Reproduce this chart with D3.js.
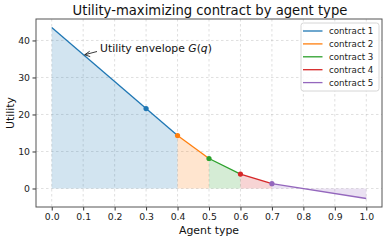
<!DOCTYPE html>
<html lang="en">
<head>
  <meta charset="UTF-8">
  <title>Utility-maximizing contract by agent type</title>
  <style>
    body { margin: 0; background: #fff; font-family: "DejaVu Sans", sans-serif; }
    .grid line { stroke: #b0b0b0; stroke-opacity: 0.5; stroke-dasharray: 2.5, 2.5; stroke-width: 0.8; }
    .axis text { font-size: 9.3px; fill: #222; }
    .axis line { stroke: #333; }
  </style>
  <script src="https://d3js.org/d3.v7.min.js"></script>
</head>
<body>
  <svg width="387" height="240"></svg>
  <script>
    // contract boundaries along agent type and envelope utility there
    const contracts = ["contract 1", "contract 2", "contract 3", "contract 4", "contract 5"];
    const colors = ["#1f77b4", "#ff7f0e", "#2ca02c", "#d62728", "#9467bd"];
    const breakQ = [0.0, 0.4, 0.5, 0.6, 0.7, 1.0];
    const breakU = [43.5, 14.3, 8.1, 3.9, 1.3, -2.7];
    // dot for each contract
    const markQ = [0.3, 0.4, 0.5, 0.6, 0.7];
    const markU = [21.6, 14.3, 8.1, 3.9, 1.3];
    const xTicks = [0, 0.1, 0.2, 0.3, 0.4, 0.5, 0.6, 0.7, 0.8, 0.9, 1.0];
    const yTicks = [0, 10, 20, 30, 40];

    const svg = d3.select('svg');
    const mLeft = 36, mRight = 382, mTop = 19, mBottom = 207;

    const x = d3.scaleLinear().domain([-0.05, 1.05]).range([mLeft, mRight]);
    const y = d3.scaleLinear().domain([-5.0, 45.8]).range([mBottom, mTop]);

    // grid
    const grid = svg.append('g').attr('class', 'grid');
    grid.selectAll('.gx').data(xTicks).enter().append('line')
      .attr('x1', d => x(d)).attr('x2', d => x(d)).attr('y1', mTop).attr('y2', mBottom);
    grid.selectAll('.gy').data(yTicks).enter().append('line')
      .attr('y1', d => y(d)).attr('y2', d => y(d)).attr('x1', mLeft).attr('x2', mRight);

    const segs = contracts.map((c, i) => ({
      name: c, color: colors[i],
      pts: [[breakQ[i], breakU[i]], [breakQ[i + 1], breakU[i + 1]]]
    }));

    const area = d3.area().x(d => x(d[0])).y0(y(0)).y1(d => y(d[1]));
    const line = d3.line().x(d => x(d[0])).y(d => y(d[1]));

    svg.append('g').selectAll('path').data(segs).enter().append('path')
      .attr('d', d => area(d.pts))
      .attr('fill', d => d.color).attr('fill-opacity', 0.2);

    svg.append('g').selectAll('path').data(segs).enter().append('path')
      .attr('d', d => line(d.pts))
      .attr('fill', 'none').attr('stroke', d => d.color).attr('stroke-width', 1.3);

    svg.append('g').selectAll('circle').data(markQ).enter().append('circle')
      .attr('cx', d => x(d)).attr('cy', (d, i) => y(markU[i])).attr('r', 2.6)
      .attr('fill', (d, i) => colors[i]);

    // axes
    const xAxis = svg.append('g').attr('class', 'axis')
      .attr('transform', `translate(0,${mBottom})`)
      .call(d3.axisBottom(x).tickValues(xTicks).tickFormat(d3.format('.1f')).tickSize(3.5).tickPadding(3));
    const yAxis = svg.append('g').attr('class', 'axis')
      .attr('transform', `translate(${mLeft},0)`)
      .call(d3.axisLeft(y).tickValues(yTicks).tickSize(3.5).tickPadding(2.5));
    xAxis.select('.domain').remove();
    yAxis.select('.domain').remove();
    xAxis.attr('font-family', null);
    yAxis.attr('font-family', null);

    svg.append('rect')
      .attr('x', mLeft).attr('y', mTop).attr('width', mRight - mLeft).attr('height', mBottom - mTop)
      .attr('fill', 'none').attr('stroke', '#555').attr('stroke-width', 1);

    // labels
    svg.append('text').attr('x', (mLeft + mRight) / 2 + 1).attr('y', 15)
      .attr('text-anchor', 'middle').attr('font-size', '13.2px').attr('fill', '#111')
      .text('Utility-maximizing contract by agent type');
    svg.append('text').attr('x', (mLeft + mRight) / 2).attr('y', 234)
      .attr('text-anchor', 'middle').attr('font-size', '10.9px').attr('fill', '#111')
      .text('Agent type');
    svg.append('text').attr('transform', `translate(14,${(mTop + mBottom) / 2}) rotate(-90)`)
      .attr('text-anchor', 'middle').attr('font-size', '10.9px').attr('fill', '#111')
      .text('Utility');

    // annotation
    const ann = svg.append('text').attr('x', 100).attr('y', 52)
      .attr('font-size', '10.8px').attr('fill', '#111');
    ann.append('tspan').text('Utility envelope ');
    ann.append('tspan').attr('font-style', 'italic').text('G');
    ann.append('tspan').text('(');
    ann.append('tspan').attr('font-style', 'italic').text('q');
    ann.append('tspan').text(')');
    const ax = x(0.1) + 1.5, ay = y(36) - 0.5;
    svg.append('line').attr('x1', 97).attr('y1', 51.5).attr('x2', ax).attr('y2', ay)
      .attr('stroke', '#222').attr('stroke-width', 0.9);
    svg.append('path')
      .attr('d', `M${ax + 5},${ay - 3.5} L${ax},${ay} L${ax + 5.5},${ay + 1.8}`)
      .attr('fill', 'none').attr('stroke', '#222').attr('stroke-width', 0.9);

    // legend
    const lg = svg.append('g').attr('transform', 'translate(301,23)');
    lg.append('rect').attr('width', 78).attr('height', 68).attr('rx', 2.5)
      .attr('fill', '#fff').attr('fill-opacity', 0.85).attr('stroke', '#ccc').attr('stroke-width', 0.8);
    const item = lg.selectAll('.item').data(segs).enter().append('g')
      .attr('transform', (d, i) => `translate(0,${8 + i * 12.9})`);
    item.append('line').attr('x1', 2).attr('x2', 21.5)
      .attr('stroke', d => d.color).attr('stroke-width', 1.3);
    item.append('text').attr('x', 28).attr('dy', '0.35em')
      .attr('font-size', '8.7px').attr('fill', '#222').text(d => d.name);
  </script>
</body>
</html>
